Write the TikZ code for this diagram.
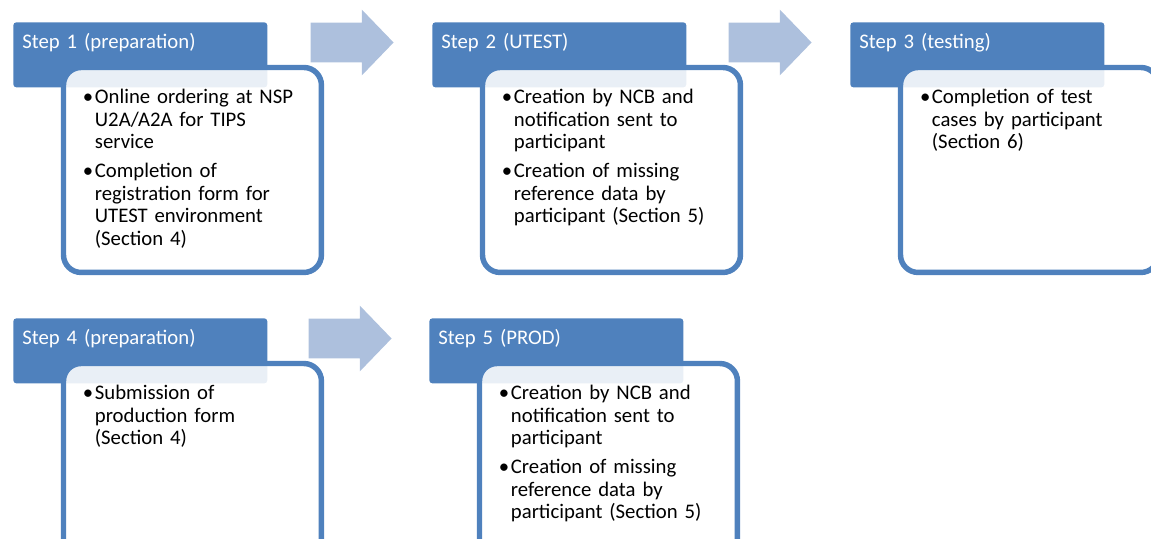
\documentclass[tikz,border=0pt]{standalone}
\usepackage{fontspec}
\setmainfont{Carlito}
\usetikzlibrary{positioning,shapes.arrows}
\definecolor{stepblue}{RGB}{79,129,189}
\definecolor{arrowblue}{RGB}{173,192,221}
\newcommand\bul{\makebox[6.8pt][l]{\textbullet}}
\begin{document}
\begin{tikzpicture}[x=0.02cm, y=-0.02cm,
    stepfont/.style={font=\fontsize{11.8}{12.9}\selectfont},
    hdr/.style={stepfont, rectangle, rounded corners=1.7pt, fill=stepblue, text=white,
        anchor=north west, inner xsep=0.18cm, inner ysep=0pt, text width=4.72cm, align=left,
        text height=0.52cm, text depth=0.78cm},
    bodybox/.style={stepfont, rectangle, rounded corners=10pt, draw=stepblue, line width=3.1pt,
        fill=white, fill opacity=0.88, text opacity=1, outer sep=0pt, inner xsep=0.39cm,
        inner ysep=0pt, text width=4.38cm, align=left, text height=0.72cm, text depth=3.38cm},
    blockarrow/.style={single arrow, fill=arrowblue, draw=none, inner xsep=0pt,
        inner ysep=0.39cm, outer sep=0pt, minimum height=1.66cm,
        single arrow head extend=0.26cm, single arrow tip angle=92}
  ]
  \useasboundingbox (0,0) rectangle (1151,538);
  \clip (0,0) rectangle (1151,538);

  % top row
  \node[hdr] (h1) at (13,22) {Step 1 (preparation)};
  \node[bodybox, below right=0.91cm and 1.01cm of h1.north west] (b1) {%
    \begin{tabular}[t]{@{}l@{}l@{}}
      \bul & Online ordering at NSP\\
           & U2A/A2A for TIPS\\
           & service\\[3.4pt]
      \bul & Completion of\\
           & registration form for\\
           & UTEST environment\\
           & (Section 4)
    \end{tabular}};
  \node[blockarrow] (a12) at (342.5,42.5) {};

  \node[hdr] (h2) at (432,22) {Step 2 (UTEST)};
  \node[bodybox, below right=0.91cm and 1.01cm of h2.north west] (b2) {%
    \begin{tabular}[t]{@{}l@{}l@{}}
      \bul & Creation by NCB and\\
           & notification sent to\\
           & participant\\[3.4pt]
      \bul & Creation of missing\\
           & reference data by\\
           & participant (Section 5)
    \end{tabular}};
  \node[blockarrow] (a23) at (760.5,42.5) {};

  \node[hdr] (h3) at (850,22) {Step 3 (testing)};
  \node[bodybox, below right=0.91cm and 1.01cm of h3.north west] (b3) {%
    \begin{tabular}[t]{@{}l@{}l@{}}
      \bul & Completion of test\\
           & cases by participant\\
           & (Section 6)
    \end{tabular}};

  % bottom row
  \node[hdr] (h4) at (13,318) {Step 4 (preparation)};
  \node[bodybox, below right=0.91cm and 1.01cm of h4.north west] (b4) {%
    \begin{tabular}[t]{@{}l@{}l@{}}
      \bul & Submission of\\
           & production form\\
           & (Section 4)
    \end{tabular}};
  \node[blockarrow] (a45) at (340.5,338.5) {};

  \node[hdr] (h5) at (429,318) {Step 5 (PROD)};
  \node[bodybox, below right=0.91cm and 1.01cm of h5.north west] (b5) {%
    \begin{tabular}[t]{@{}l@{}l@{}}
      \bul & Creation by NCB and\\
           & notification sent to\\
           & participant\\[3.4pt]
      \bul & Creation of missing\\
           & reference data by\\
           & participant (Section 5)
    \end{tabular}};
\end{tikzpicture}
\end{document}
